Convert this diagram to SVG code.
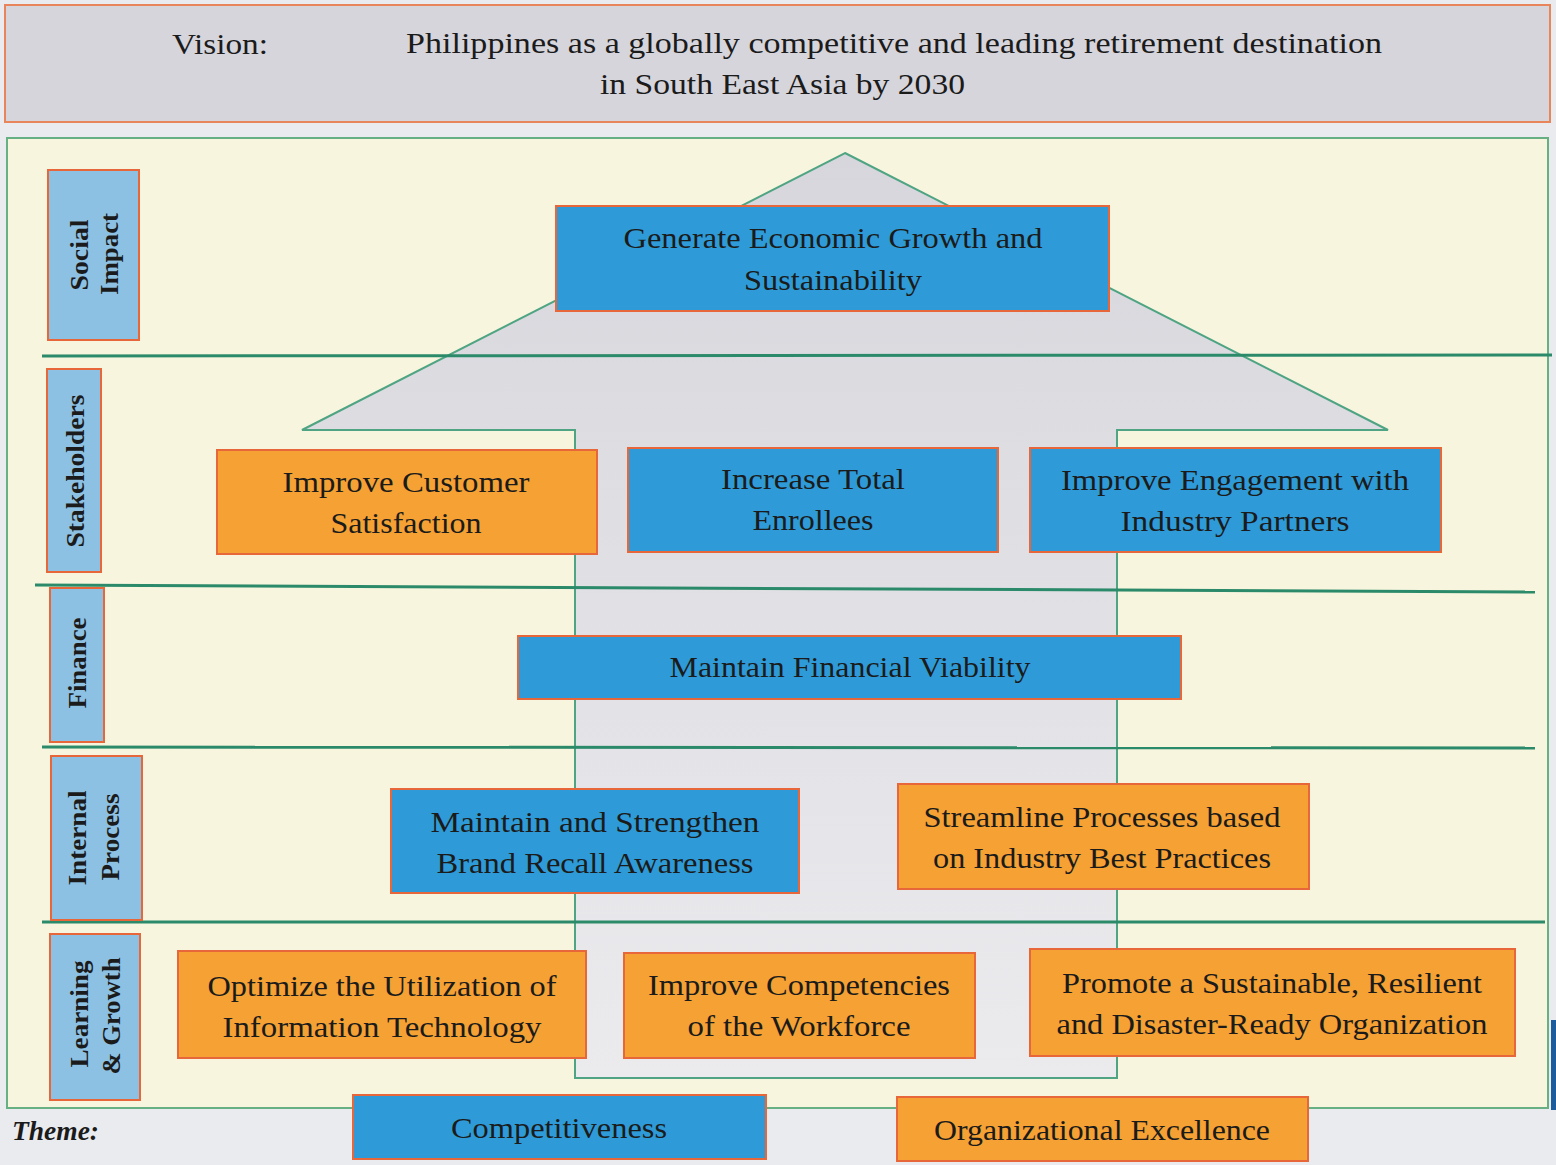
<svg xmlns="http://www.w3.org/2000/svg" width="1556" height="1165" viewBox="0 0 1556 1165">
<defs>
<linearGradient id="houseGrad" x1="0" y1="0" x2="0" y2="1">
<stop offset="0" stop-color="#d7d6dc"/>
<stop offset="1" stop-color="#ebebee"/>
</linearGradient>
<style>
.nb{fill:#2e9bd8;stroke:#e8673a;stroke-width:2}
.no{fill:#f5a134;stroke:#e8673a;stroke-width:2}
.lab{fill:#8dc1e3;stroke:#e8673a;stroke-width:2}
.t{font-family:"Liberation Serif","Times New Roman",serif;font-size:30px;fill:#1b1b1b;text-anchor:middle}
.lt{font-family:"Liberation Serif","Times New Roman",serif;font-size:26px;font-weight:bold;fill:#1b1b1b;text-anchor:middle}
.vt{font-family:"Liberation Serif","Times New Roman",serif;font-size:30px;fill:#1b1b1b}
.band{stroke:#2b8a69;stroke-width:3;fill:none}
.house{fill:url(#houseGrad);stroke:#4ea483;stroke-width:2}
</style>
</defs>
<rect x="0" y="0" width="1556" height="1165" fill="#e9ebef"/>
<g id="vision">
<rect x="5" y="5" width="1545" height="117" fill="#d6d5db" stroke="#e9855a" stroke-width="2"/>
<text class="vt" x="172" y="54" textLength="96" lengthAdjust="spacingAndGlyphs">Vision:</text>
<text class="vt" x="406" y="53" textLength="976" lengthAdjust="spacingAndGlyphs">Philippines as a globally competitive and leading retirement destination</text>
<text class="vt" x="600" y="94" textLength="365" lengthAdjust="spacingAndGlyphs">in South East Asia by 2030</text>
</g>
<g id="panel">
<rect x="7" y="138" width="1541" height="970" fill="#f8f5de" stroke="#66b083" stroke-width="2"/>
</g>
<g id="house">
<polygon class="house" points="845,153 1388,430 1117,430 1117,1078 575,1078 575,430 302,430"/>
</g>
<g id="connectors">
<line class="band" x1="42" y1="356" x2="1552" y2="355"/>
<line class="band" x1="35" y1="585" x2="1535" y2="592"/>
<line class="band" x1="42" y1="747" x2="1535" y2="748"/>
<line class="band" x1="42" y1="922" x2="1545" y2="922"/>
</g>
<g id="label-social">
<rect class="lab" x="48" y="170" width="91" height="170"/>
<text class="lt" transform="translate(88,255) rotate(-90)" textLength="71" lengthAdjust="spacingAndGlyphs">Social</text>
<text class="lt" transform="translate(118,254) rotate(-90)" textLength="82" lengthAdjust="spacingAndGlyphs">Impact</text>
</g>
<g id="label-stakeholders">
<rect class="lab" x="47" y="369" width="54" height="203"/>
<text class="lt" transform="translate(84,471) rotate(-90)" textLength="153" lengthAdjust="spacingAndGlyphs">Stakeholders</text>
</g>
<g id="label-finance">
<rect class="lab" x="50" y="588" width="54" height="154"/>
<text class="lt" transform="translate(86,663) rotate(-90)" textLength="91" lengthAdjust="spacingAndGlyphs">Finance</text>
</g>
<g id="label-internal">
<rect class="lab" x="51" y="756" width="91" height="164"/>
<text class="lt" transform="translate(86,838) rotate(-90)" textLength="95" lengthAdjust="spacingAndGlyphs">Internal</text>
<text class="lt" transform="translate(119,837) rotate(-90)" textLength="87" lengthAdjust="spacingAndGlyphs">Process</text>
</g>
<g id="label-learning">
<rect class="lab" x="50" y="934" width="90" height="166"/>
<text class="lt" transform="translate(88,1014) rotate(-90)" textLength="107" lengthAdjust="spacingAndGlyphs">Learning</text>
<text class="lt" transform="translate(120,1016) rotate(-90)" textLength="117" lengthAdjust="spacingAndGlyphs">&amp; Growth</text>
</g>
<g id="node-economic">
<rect class="nb" x="556" y="206" width="553" height="105"/>
<text class="t" x="833" y="248" textLength="419" lengthAdjust="spacingAndGlyphs">Generate Economic Growth and</text>
<text class="t" x="833" y="290" textLength="178" lengthAdjust="spacingAndGlyphs">Sustainability</text>
</g>
<g id="node-customer">
<rect class="no" x="217" y="450" width="380" height="104"/>
<text class="t" x="406" y="492" textLength="247" lengthAdjust="spacingAndGlyphs">Improve Customer</text>
<text class="t" x="406" y="533" textLength="151" lengthAdjust="spacingAndGlyphs">Satisfaction</text>
</g>
<g id="node-enrollees">
<rect class="nb" x="628" y="448" width="370" height="104"/>
<text class="t" x="813" y="489" textLength="184" lengthAdjust="spacingAndGlyphs">Increase Total</text>
<text class="t" x="813" y="530" textLength="121" lengthAdjust="spacingAndGlyphs">Enrollees</text>
</g>
<g id="node-engagement">
<rect class="nb" x="1030" y="448" width="411" height="104"/>
<text class="t" x="1235" y="490" textLength="348" lengthAdjust="spacingAndGlyphs">Improve Engagement with</text>
<text class="t" x="1235" y="531" textLength="229" lengthAdjust="spacingAndGlyphs">Industry Partners</text>
</g>
<g id="node-financial">
<rect class="nb" x="518" y="636" width="663" height="63"/>
<text class="t" x="850" y="677" textLength="361" lengthAdjust="spacingAndGlyphs">Maintain Financial Viability</text>
</g>
<g id="node-brand">
<rect class="nb" x="391" y="789" width="408" height="104"/>
<text class="t" x="595" y="832" textLength="329" lengthAdjust="spacingAndGlyphs">Maintain and Strengthen</text>
<text class="t" x="595" y="873" textLength="317" lengthAdjust="spacingAndGlyphs">Brand Recall Awareness</text>
</g>
<g id="node-streamline">
<rect class="no" x="898" y="784" width="411" height="105"/>
<text class="t" x="1102" y="827" textLength="357" lengthAdjust="spacingAndGlyphs">Streamline Processes based</text>
<text class="t" x="1102" y="868" textLength="338" lengthAdjust="spacingAndGlyphs">on Industry Best Practices</text>
</g>
<g id="node-it">
<rect class="no" x="178" y="951" width="408" height="107"/>
<text class="t" x="382" y="996" textLength="349" lengthAdjust="spacingAndGlyphs">Optimize the Utilization of</text>
<text class="t" x="382" y="1037" textLength="319" lengthAdjust="spacingAndGlyphs">Information Technology</text>
</g>
<g id="node-competencies">
<rect class="no" x="624" y="953" width="351" height="105"/>
<text class="t" x="799" y="995" textLength="302" lengthAdjust="spacingAndGlyphs">Improve Competencies</text>
<text class="t" x="799" y="1036" textLength="223" lengthAdjust="spacingAndGlyphs">of the Workforce</text>
</g>
<g id="node-sustainable">
<rect class="no" x="1030" y="949" width="485" height="107"/>
<text class="t" x="1272" y="993" textLength="420" lengthAdjust="spacingAndGlyphs">Promote a Sustainable, Resilient</text>
<text class="t" x="1272" y="1034" textLength="431" lengthAdjust="spacingAndGlyphs">and Disaster-Ready Organization</text>
</g>
<g id="theme">
<text x="12" y="1140" font-family="'Liberation Serif','Times New Roman',serif" font-size="27" font-weight="bold" font-style="italic" fill="#1b1b1b" textLength="87" lengthAdjust="spacingAndGlyphs">Theme:</text>
</g>
<g id="node-competitiveness">
<rect class="nb" x="353" y="1095" width="413" height="64"/>
<text class="t" x="559" y="1138" textLength="216" lengthAdjust="spacingAndGlyphs">Competitiveness</text>
</g>
<g id="node-excellence">
<rect class="no" x="897" y="1097" width="411" height="64"/>
<text class="t" x="1102" y="1140" textLength="336" lengthAdjust="spacingAndGlyphs">Organizational Excellence</text>
</g>
<rect x="1551" y="1020" width="5" height="90" fill="#1d5c9c"/>
</svg>
